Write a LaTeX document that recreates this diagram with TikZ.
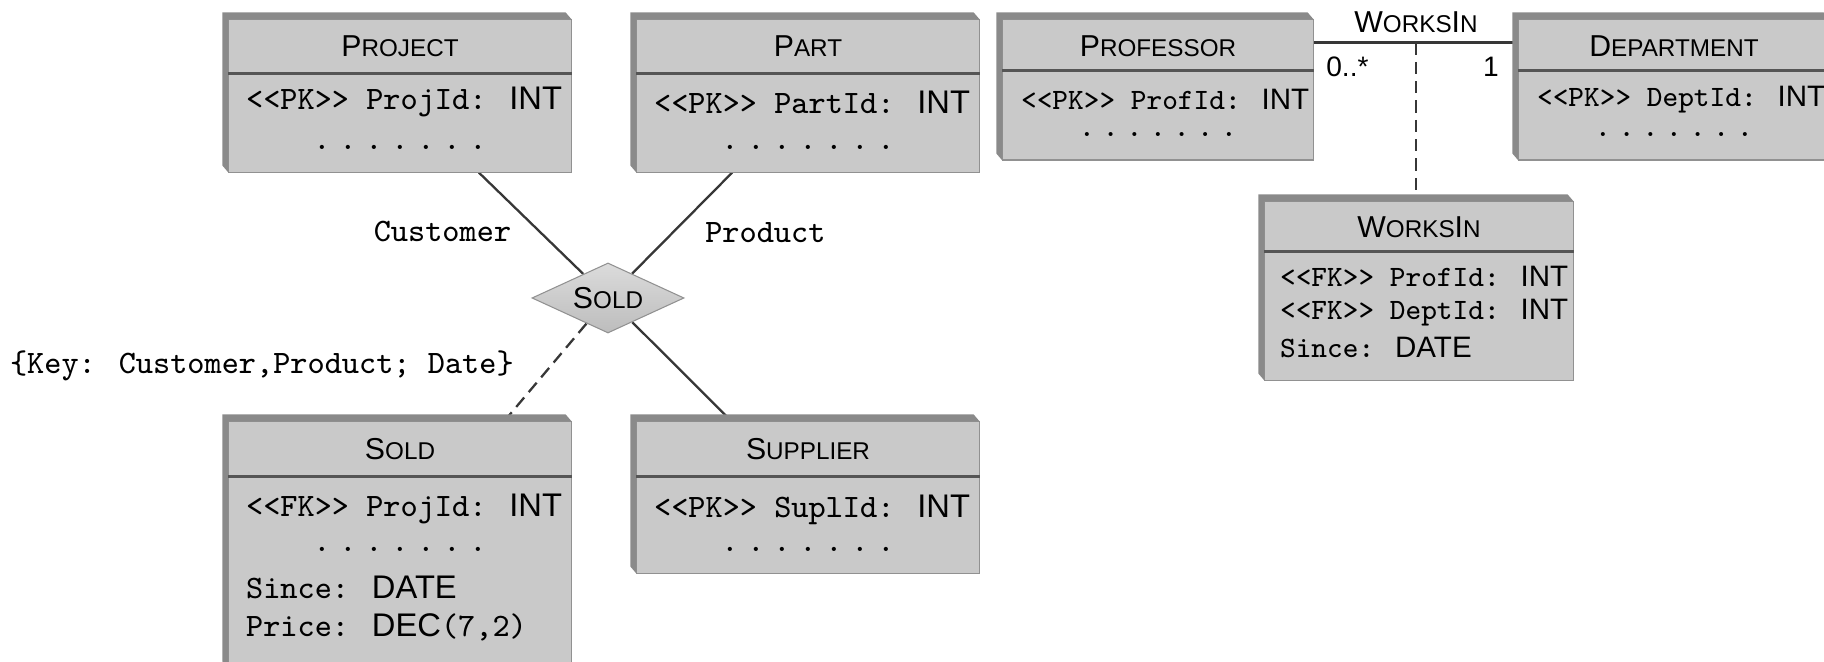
\documentclass[tikz,border=0pt]{standalone}
\usepackage{fontspec}
\newfontfamily\hvfont{Liberation Sans}
\usetikzlibrary{shapes.geometric,calc,backgrounds}
\definecolor{facegray}{RGB}{201,201,201}
\definecolor{sidegray}{RGB}{138,138,138}
\definecolor{edgegray}{RGB}{145,145,145}
\definecolor{rulegray}{RGB}{85,85,85}
\definecolor{linkgray}{RGB}{55,55,55}
\newcommand\tcap{\fontsize{8.6}{10}\selectfont}
\newcommand\tsmall{\fontsize{6.9}{10}\selectfont}
\newcommand\ty[1]{{\hvfont #1}}
\newcommand\st[1]{<\kern0pt<#1>\kern0pt>}
\newcommand\dotrow{.\kern.27em.\kern.27em.\kern.27em.\kern.27em.\kern.27em.\kern.27em.}
\newcommand\sidefill[1]{\fill[sidegray] (#1.south west) -- ++(-6,-7) -- ($(#1.north west)+(-6,-7)$) -- ($(#1.north east)+(-6,-7)$) -- (#1.north east) -- (#1.north west) -- cycle;}
\tikzset{
  face/.style={rectangle, fill=facegray, draw=edgegray, line width=.3pt, inner sep=0pt},
  headtext/.style={font=\hvfont, inner sep=0pt},
  attr/.style={font=\fontsize{9.3}{11}\selectfont\ttfamily, inner sep=0pt, anchor=west},
  attrs/.style={font=\fontsize{8.4}{10}\selectfont\ttfamily, inner sep=0pt, anchor=west},
  dots/.style={font=\fontsize{9.3}{11}\selectfont\ttfamily, inner sep=0pt},
  dotss/.style={font=\fontsize{8.4}{10}\selectfont\ttfamily, inner sep=0pt},
  headrule/.style={draw=rulegray, line width=.9pt},
  link/.style={draw=linkgray, line width=.65pt},
  assoc/.style={link, dash pattern=on 3.5pt off 2pt},
  relbox/.style={diamond, aspect=2.2, minimum width=1.52cm, minimum height=.7cm, inner sep=0pt,
    draw=edgegray, line width=.3pt, top color=black!14, bottom color=black!26, font=\hvfont},
  lbl/.style={font=\fontsize{9.3}{11}\selectfont\ttfamily, inner sep=0pt},
  mult/.style={font=\hvfont\fontsize{8}{10}\selectfont, inner sep=0pt},
}
\begin{document}
\begin{tikzpicture}[x=.01cm, y=-.01cm]
\useasboundingbox (0,0) rectangle (1824,662);
\clip (0,0) rectangle (1824,662);
% entities of the ER side
\node[face, minimum width=3.42cm, minimum height=1.52cm] (project) at (400,96) {};
\sidefill{project}
\node[headtext] (projectname) at ($(project.north)+(0,27)$) {\tcap P\tsmall ROJECT};
\draw[headrule] ($(project.north west)+(0,54)$) -- ($(project.north east)+(0,54)$);
\node[attr] (projectkey) at ($(project.north west)+(17,83)$) {\st{PK} ProjId: \ty{INT}};
\node[dots] (projectdots) at ($(project.north)+(0,128)$) {\dotrow};

\node[face, minimum width=3.42cm, minimum height=1.52cm] (part) at (808,96) {};
\sidefill{part}
\node[headtext] (partname) at ($(part.north)+(0,27)$) {\tcap P\tsmall ART};
\draw[headrule] ($(part.north west)+(0,54)$) -- ($(part.north east)+(0,54)$);
\node[attr] (partkey) at ($(part.north west)+(17,83)$) {\st{PK} PartId: \ty{INT}};
\node[dots] (partdots) at ($(part.north)+(0,128)$) {\dotrow};

\node[relbox] (soldrel) at (608,298) {\tcap S\tsmall OLD};

\node[face, minimum width=3.42cm, minimum height=2.46cm] (sold) at (400,545) {};
\sidefill{sold}
\node[headtext] (soldname) at ($(sold.north)+(0,28)$) {\tcap S\tsmall OLD};
\draw[headrule] ($(sold.north west)+(0,55)$) -- ($(sold.north east)+(0,55)$);
\node[attr] (soldkey) at ($(sold.north west)+(17,88)$) {\st{FK} ProjId: \ty{INT}};
\node[dots] (solddots) at ($(sold.north)+(0,128)$) {\dotrow};
\node[attr] (soldsince) at ($(sold.north west)+(17,166)$) {Since: \ty{DATE}};
\node[attr] (soldprice) at ($(sold.north west)+(17,206)$) {Price: \ty{DEC}(7,2)};

\node[face, minimum width=3.42cm, minimum height=1.51cm] (supplier) at (808,497.5) {};
\sidefill{supplier}
\node[headtext] (suppliername) at ($(supplier.north)+(0,28)$) {\tcap S\tsmall UPPLIER};
\draw[headrule] ($(supplier.north west)+(0,55)$) -- ($(supplier.north east)+(0,55)$);
\node[attr] (supplierkey) at ($(supplier.north west)+(17,88)$) {\st{PK} SuplId: \ty{INT}};
\node[dots] (supplierdots) at ($(supplier.north)+(0,128)$) {\dotrow};

\begin{scope}[on background layer]
  \draw[link] (project) -- node[lbl, pos=.58, left=7.7pt] (custlbl) {Customer} (soldrel);
  \draw[link] (part) -- node[lbl, pos=.59, right=8.8pt] (prodlbl) {Product} (soldrel);
  \draw[link] (soldrel) -- (supplier);
  \draw[assoc] (soldrel) -- node[lbl, pos=.43, left=10.3pt] (keylbl) {\{Key: Customer,Product; Date\}} (sold);
\end{scope}

% classes of the UML side
\node[face, minimum width=3.1cm, minimum height=1.4cm] (professor) at (1158,90) {};
\sidefill{professor}
\node[headtext] (professorname) at ($(professor.north)+(0,27)$) {\tcap P\tsmall ROFESSOR};
\draw[headrule] ($(professor.north west)+(0,51)$) -- ($(professor.north east)+(0,51)$);
\node[attrs] (professorkey) at ($(professor.north west)+(18,80)$) {\st{PK} ProfId: \ty{INT}};
\node[dotss] (professordots) at ($(professor.north)+(0,115)$) {\dotrow};

\node[face, minimum width=3.1cm, minimum height=1.4cm] (department) at (1674,90) {};
\sidefill{department}
\node[headtext] (departmentname) at ($(department.north)+(0,27)$) {\tcap D\tsmall EPARTMENT};
\draw[headrule] ($(department.north west)+(0,51)$) -- ($(department.north east)+(0,51)$);
\node[attrs] (departmentkey) at ($(department.north west)+(18,80)$) {\st{PK} DeptId: \ty{INT}};
\node[dotss] (departmentdots) at ($(department.north)+(0,115)$) {\dotrow};

\node[face, minimum width=3.08cm, minimum height=1.78cm] (worksin) at (1419,291) {};
\sidefill{worksin}
\node[headtext] (worksinname) at ($(worksin.north)+(0,26)$) {\tcap W\tsmall ORKS\tcap I\tsmall N};
\draw[headrule] ($(worksin.north west)+(0,50)$) -- ($(worksin.north east)+(0,50)$);
\node[attrs] (worksinprof) at ($(worksin.north west)+(15,75)$) {\st{FK} ProfId: \ty{INT}};
\node[attrs] (worksindept) at ($(worksin.north west)+(15,111)$) {\st{FK} DeptId: \ty{INT}};
\node[attrs] (worksinsince) at ($(worksin.north west)+(15,146)$) {Since: \ty{DATE}};

\coordinate (wleft) at ($(professor.north east)+(0,23)$);
\coordinate (wright) at ($(department.north west)+(0,23)$);
\coordinate (wmid) at ($(wleft)!.5!(wright)$);
\begin{scope}[on background layer]
  \draw[link] (wleft) -- node[headtext, above=2.5pt] (assocname) {\tcap W\tsmall ORKS\tcap I\tsmall N} (wright);
  \draw[assoc] (wmid) -- (wmid |- worksin.north);
\end{scope}
\node[mult, anchor=north west] (profmult) at ($(wleft)+(12,14)$) {0..*};
\node[mult, anchor=north east] (deptmult) at ($(wright)+(-19,14)$) {1};
\end{tikzpicture}
\end{document}
